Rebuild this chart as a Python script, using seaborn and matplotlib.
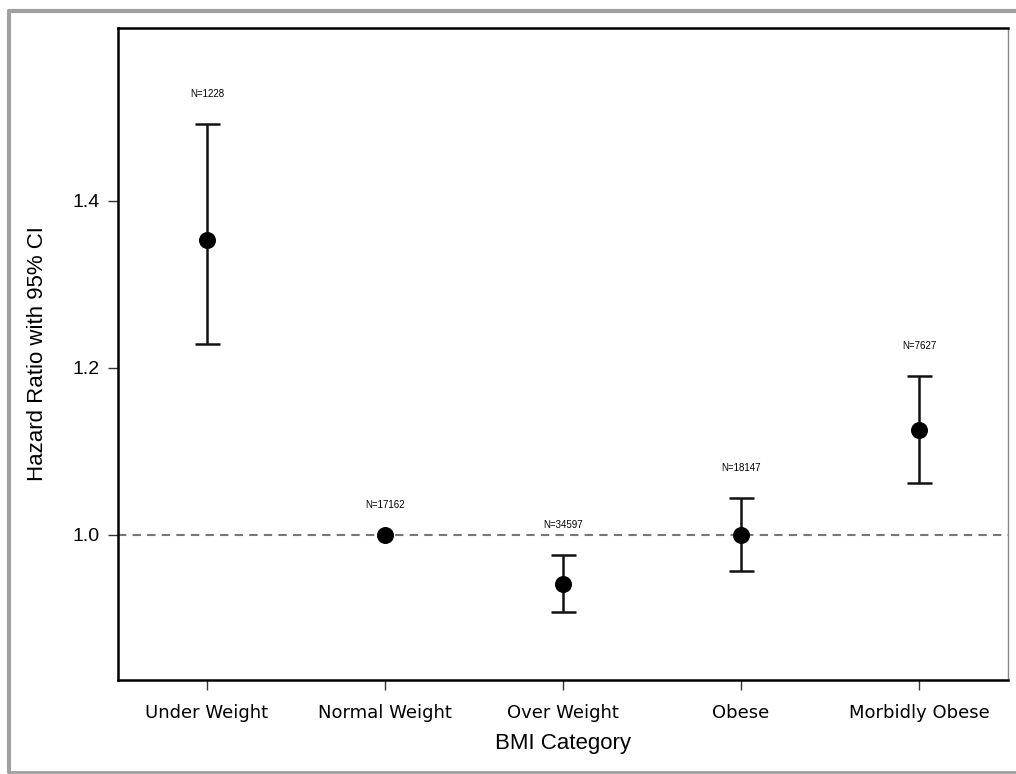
import matplotlib
matplotlib.use("Agg")
import matplotlib.pyplot as plt
from matplotlib.lines import Line2D
import numpy as np
import pandas as pd
import seaborn as sns

# hazard ratios
categories = ['Under Weight', 'Normal Weight', 'Over Weight', 'Obese', 'Morbidly Obese']
hazard_ratio = [1.353, 1.000, 0.941, 1.000, 1.125]
ci_lower = [1.229, 1.000, 0.907, 0.957, 1.062]
ci_upper = [1.492, 1.000, 0.976, 1.044, 1.190]
n_labels = ['N=1228', 'N=17162', 'N=34597', 'N=18147', 'N=7627']


def main():
    sns.set_theme(style='white')
    plt.rcParams['font.family'] = ['Liberation Sans', 'DejaVu Sans']

    df = pd.DataFrame({'BMI Category': categories, 'HR': hazard_ratio,
                       'lo': ci_lower, 'hi': ci_upper, 'N': n_labels})

    fig = plt.figure(figsize=(10.16, 7.74), dpi=100)
    ax = fig.add_axes([118 / 1016, 1 - 680 / 774, 890 / 1016, 652 / 774])

    ax.axhline(1.0, color='#777777', lw=1.5, ls=(0, (4, 3)), zorder=1)

    # CI bars (reference group has no interval)
    pos = np.arange(len(df))
    has_ci = (df['hi'] - df['lo']) > 0
    ax.errorbar(pos[has_ci], df['HR'][has_ci],
                yerr=[df['HR'][has_ci] - df['lo'][has_ci], df['hi'][has_ci] - df['HR'][has_ci]],
                fmt='none', ecolor='#111111', elinewidth=1.8, capsize=9, capthick=1.8, zorder=2)

    sns.scatterplot(data=df, x='BMI Category', y='HR', color='black', s=150,
                    edgecolor='black', linewidth=0, zorder=3, ax=ax)

    for i, row in df.iterrows():
        ax.annotate(row['N'], (i, row['hi']), xytext=(0, 18), textcoords='offset points',
                    ha='center', va='bottom', fontsize=7, color='black')

    ax.set_xlim(-0.5, len(categories) - 0.5)
    ax.set_ylim(0.826, 1.607)
    ax.set_yticks([1.0, 1.2, 1.4])
    ax.set_yticklabels(['1.0', '1.2', '1.4'], fontsize=14)
    ax.set_xticks(pos)
    ax.set_xticklabels(categories, fontsize=13, family='DejaVu Sans')
    ax.tick_params(axis='both', direction='out', length=7, width=1, color='#333333',
                   labelcolor='black', bottom=True, left=True, pad=6)
    ax.tick_params(axis='x', pad=10)

    ax.set_xlabel('BMI Category', fontsize=16, color='black', labelpad=8)
    ax.set_ylabel('Hazard Ratio with 95% CI', fontsize=16, color='black', labelpad=18)

    for side in ['left', 'bottom', 'top']:
        ax.spines[side].set_color('black')
        ax.spines[side].set_linewidth(1.8)
    ax.spines['right'].set_color('#888888')
    ax.spines['right'].set_linewidth(1)

    # gray frame around the figure
    fc = '#a0a0a0'
    fig.add_artist(Line2D([9 / 1016, 9 / 1016], [1 - 11 / 774, 1 - 772 / 774], color=fc, lw=3,
                          transform=fig.transFigure))
    fig.add_artist(Line2D([9 / 1016, 1], [1 - 11 / 774, 1 - 11 / 774], color=fc, lw=3,
                          transform=fig.transFigure))
    fig.add_artist(Line2D([9 / 1016, 1], [1 - 772 / 774, 1 - 772 / 774], color=fc, lw=2,
                          transform=fig.transFigure))

    fig.savefig('out.png', dpi=100)


if __name__ == "__main__":
    main()
